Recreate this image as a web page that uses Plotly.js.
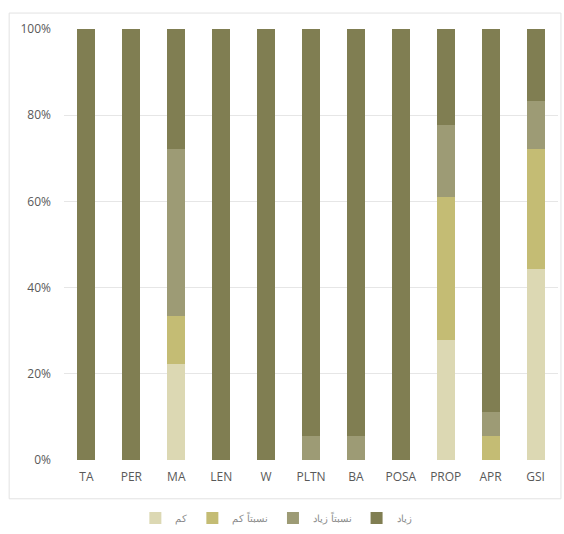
<!DOCTYPE html>
<html>
<head>
<meta charset="utf-8">
<script src="https://cdn.plot.ly/plotly-3.0.1.min.js"></script>
<style>html,body{margin:0;padding:0;background:#fff;}#chart{width:564px;height:534px;}</style>
</head>
<body>
<div id="chart"></div>
<script>
// Categories (traits)
const categories = ["TA", "PER", "MA", "LEN", "W", "PLTN", "BA", "POSA", "PROP", "APR", "GSI"];
// Series names (legend, Persian)
const seriesNames = ["کم", "نسبتاً کم", "نسبتاً زیاد", "زیاد"];
// Shares (fraction of 1) per category
const lowVals     = [0, 0, 0.222, 0, 0, 0, 0, 0, 0.278, 0, 0.444];
const relLowVals  = [0, 0, 0.111, 0, 0, 0, 0, 0, 0.333, 0.056, 0.278];
const relHighVals = [0, 0, 0.389, 0, 0, 0.056, 0.056, 0, 0.167, 0.056, 0.111];
const highVals    = [1, 1, 0.278, 1, 1, 0.944, 0.944, 1, 0.222, 0.888, 0.167];
const yTickVals   = [0, 0.2, 0.4, 0.6, 0.8, 1];
const yTickText   = ["0%", "20%", "40%", "60%", "80%", "100%"];

const colors = ["#dcd8b3", "#c4bc74", "#9d9b75", "#807e52"];
const seriesVals = [lowVals, relLowVals, relHighVals, highVals];

const traces = seriesVals.map((vals, i) => ({
  type: "bar",
  name: seriesNames[i],
  x: categories,
  y: vals,
  marker: { color: colors[i] },
  hoverinfo: "x+y+name"
}));

const layout = {
  width: 564,
  height: 534,
  barmode: "stack",
  bargap: 0.6,
  margin: { l: 64, r: 6, t: 29, b: 74, autoexpand: false },
  paper_bgcolor: "#ffffff",
  plot_bgcolor: "#ffffff",
  font: { family: "Open Sans, Liberation Sans, sans-serif", color: "#595959", size: 12 },
  xaxis: {
    type: "category",
    showgrid: false,
    showline: false,
    zeroline: false,
    ticks: "",
    ticklabelstandoff: 8,
    tickfont: { size: 12, color: "#595959" }
  },
  yaxis: {
    range: [0, 1],
    tickvals: yTickVals,
    ticktext: yTickText,
    showgrid: true,
    gridcolor: "#e6e6e6",
    gridwidth: 1,
    zeroline: false,
    showline: false,
    ticks: "",
    ticklabelstandoff: 12,
    tickfont: { size: 12, color: "#595959" }
  },
  legend: {
    orientation: "h",
    xref: "container",
    yref: "container",
    x: 0.49,
    xanchor: "center",
    y: 0.03,
    yanchor: "middle",
    traceorder: "normal",
    font: { size: 10, color: "#8a8a8a" },
    itemclick: false
  },
  shapes: [{
    type: "rect",
    xref: "paper", yref: "paper",
    x0: -0.111, x1: 1.006, y0: -0.09, y1: 1.037,
    line: { color: "#e2e2e2", width: 1 },
    fillcolor: "rgba(0,0,0,0)",
    layer: "below"
  }]
};

Plotly.newPlot("chart", traces, layout, { displayModeBar: false, staticPlot: true });
</script>
</body>
</html>
